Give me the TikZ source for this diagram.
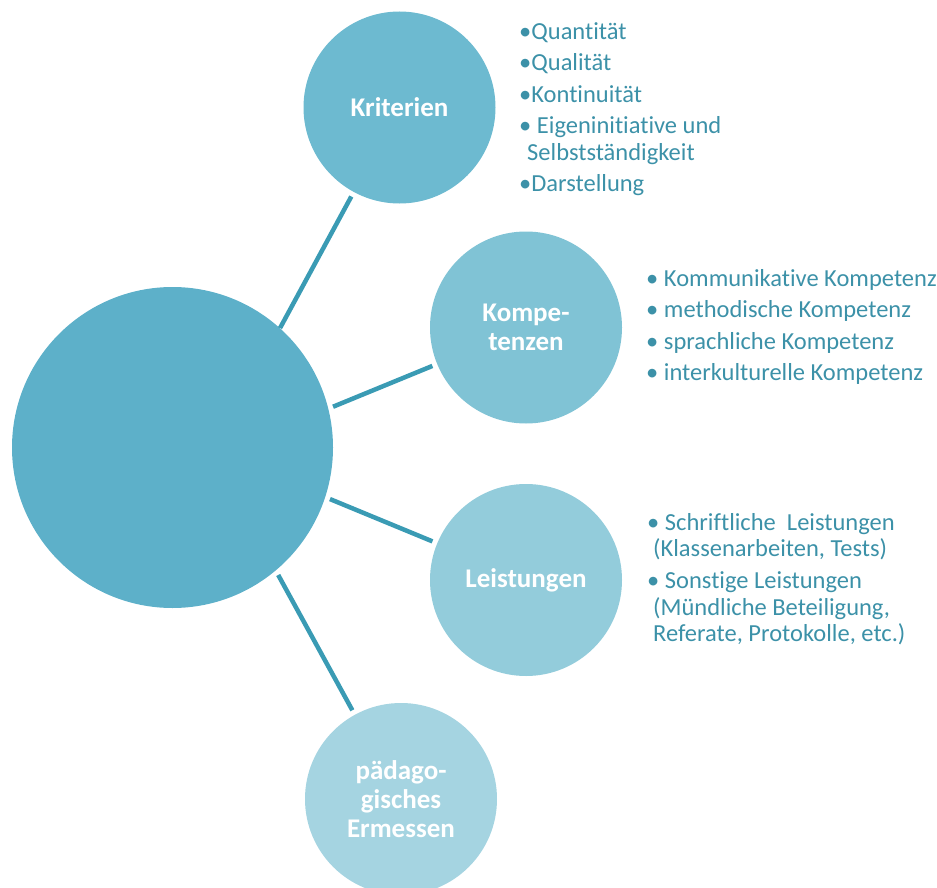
\documentclass[tikz,border=0pt]{standalone}
\usepackage{fontspec}
\setmainfont{Carlito}[Ligatures=NoCommon]
\definecolor{bigblue}{RGB}{93,176,201}
\definecolor{critblue}{RGB}{109,186,208}
\definecolor{compblue}{RGB}{128,195,213}
\definecolor{perfblue}{RGB}{147,204,219}
\definecolor{judgblue}{RGB}{165,212,225}
\definecolor{linkblue}{RGB}{58,155,180}
\definecolor{listblue}{RGB}{60,145,168}

\begin{document}
\begin{tikzpicture}[x=1pt,y=-1pt,
    bubble/.style={circle,minimum size=192pt,inner sep=0pt,align=center,
      text=white,font=\fontsize{27}{29}\selectfont\bfseries},
    link/.style={draw=linkblue,line width=4.5pt,shorten <=5pt,shorten >=5pt},
    bullets/.style={anchor=north west,align=left,inner sep=0pt,
      text=listblue,font=\fontsize{24.5}{26.5}\selectfont}]
    \path[use as bounding box,clip] (0,0) rectangle (937,888);
    % centre
    \node[circle,fill=bigblue,minimum size=321pt,inner sep=0pt] (centre) at (172.5,447.5) {};
    % satellites
    \node[bubble,fill=critblue] (krit) at (399.5,107.5) {Kriterien};
    \node[bubble,fill=compblue] (komp) at (526,327.5) {Kompe-\\tenzen};
    \node[bubble,fill=perfblue] (leist) at (526,580) {Leistungen};
    \node[bubble,fill=judgblue] (erm) at (401,799) {pädago-\\gisches\\Ermessen};
    % connectors
    \draw[link,shorten <=0pt] (centre.48.7) -- (krit);
    \draw[link] (centre.14.8) -- (komp);
    \draw[link] (centre.-18.5) -- (leist);
    \draw[link] (centre.-50.4) -- (erm);
    % lists
    \node[bullets] (kritlist) at (519,22) {•Quantität\\[5pt]
      •Qualität\\[5pt]
      •Kontinuität\\[5pt]
      • Eigeninitiative und\\
      \hspace*{8pt}Selbstständigkeit\\[5pt]
      •Darstellung};
    \node[bullets] (komplist) at (646,269) {• Kommunikative Kompetenz\\[5pt]
      • methodische Kompetenz\\[5pt]
      • sprachliche Kompetenz\\[5pt]
      • interkulturelle Kompetenz};
    \node[bullets] (leistlist) at (647,513) {• Schriftliche\ \ Leistungen\\
      \hspace*{6pt}(Klassenarbeiten, Tests)\\[5.5pt]
      • Sonstige Leistungen\\
      \hspace*{6pt}(Mündliche Beteiligung,\\
      \hspace*{6pt}Referate, Protokolle, etc.)};
\end{tikzpicture}
\end{document}
